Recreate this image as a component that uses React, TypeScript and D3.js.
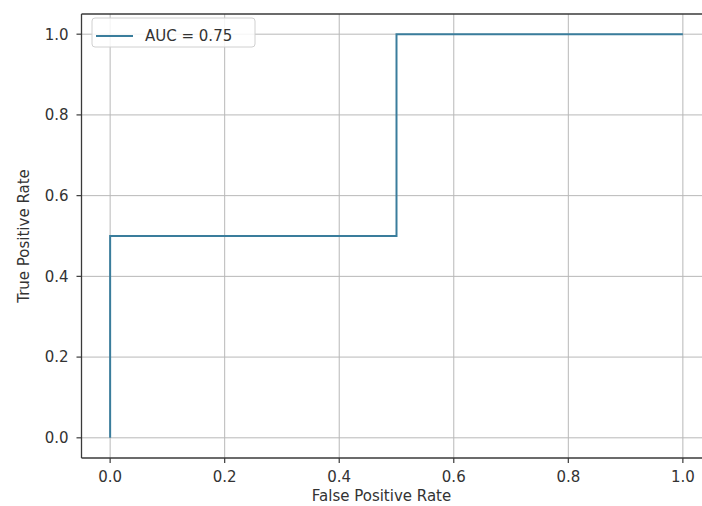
import React from "react";
import * as d3 from "d3";

const fpr = [0, 0, 0.5, 0.5, 1];
const tpr = [0, 0.5, 0.5, 1, 1];
const xTicks = [0, 0.2, 0.4, 0.6, 0.8, 1.0];
const yTicks = [0, 0.2, 0.4, 0.6, 0.8, 1.0];
const legendLabel = "AUC = 0.75";
const xLabel = "False Positive Rate";
const yLabel = "True Positive Rate";

const W = 702;
const H = 506;
const left = 81.5;
const right = 711.5;
const top = 14;
const bottom = 458;
const FONT = "DejaVu Sans, sans-serif";
const LINE = "#3a7d9c";

export default function App() {
  const x = d3.scaleLinear().domain([-0.05, 1.05]).range([left, right]);
  const y = d3.scaleLinear().domain([-0.05, 1.05]).range([bottom, top]);
  const pts = fpr.map((f, i) => [f, tpr[i]] as [number, number]);
  const line = d3
    .line<[number, number]>()
    .x((d) => x(d[0]))
    .y((d) => y(d[1]));

  return (
    <svg
      width={W}
      height={H}
      style={{ position: "absolute", left: 0, top: 0, background: "#fff" }}
      fontFamily={FONT}
    >
      <defs>
        <clipPath id="plot">
          <rect x={left} y={top} width={right - left} height={bottom - top} />
        </clipPath>
      </defs>
      <rect x={0} y={0} width={W} height={H} fill="#fff" />
      {/* grid */}
      <g stroke="#b8b8b8" strokeWidth={1}>
        {xTicks.map((t) => (
          <line key={"gx" + t} x1={x(t)} x2={x(t)} y1={top} y2={bottom} />
        ))}
        {yTicks.map((t) => (
          <line key={"gy" + t} x1={left} x2={right} y1={y(t)} y2={y(t)} />
        ))}
      </g>
      {/* curve */}
      <path
        d={line(pts) || ""}
        fill="none"
        stroke={LINE}
        strokeWidth={2}
        clipPath="url(#plot)"
      />
      {/* spines */}
      <g stroke="#3a3a3a" strokeWidth={1.3} fill="none">
        <line x1={left} x2={right} y1={top} y2={top} />
        <line x1={left} x2={right} y1={bottom} y2={bottom} />
        <line x1={left} x2={left} y1={top} y2={bottom} />
        <line x1={right} x2={right} y1={top} y2={bottom} />
      </g>
      {/* x ticks */}
      <g>
        {xTicks.map((t) => (
          <g key={"xt" + t}>
            <line x1={x(t)} x2={x(t)} y1={bottom} y2={bottom + 5} stroke="#3a3a3a" strokeWidth={1.2} />
            <text x={x(t)} y={bottom + 24} textAnchor="middle" fontSize={15} fill="#333">
              {t.toFixed(1)}
            </text>
          </g>
        ))}
      </g>
      {/* y ticks */}
      <g>
        {yTicks.map((t) => (
          <g key={"yt" + t}>
            <line x1={left - 5} x2={left} y1={y(t)} y2={y(t)} stroke="#3a3a3a" strokeWidth={1.2} />
            <text x={left - 13} y={y(t)} dy="0.36em" textAnchor="end" fontSize={15} fill="#333">
              {t.toFixed(1)}
            </text>
          </g>
        ))}
      </g>
      {/* axis labels */}
      <text x={(left + right) / 2 - 15} y={501} textAnchor="middle" fontSize={15} fill="#333">
        {xLabel}
      </text>
      <text
        transform={`translate(24,${(top + bottom) / 2}) rotate(-90)`}
        textAnchor="middle"
        dy="0.36em"
        fontSize={15}
        fill="#333"
      >
        {yLabel}
      </text>
      {/* legend */}
      <g>
        <rect x={92} y={18} width={163} height={29} rx={3} fill="#fff" fillOpacity={0.85} stroke="#d0d0d0" strokeWidth={1} />
        <line x1={96} x2={133} y1={36} y2={36} stroke={LINE} strokeWidth={2} />
        <text x={145} y={36} dy="0.36em" fontSize={15} fill="#333">
          {legendLabel}
        </text>
      </g>
    </svg>
  );
}
